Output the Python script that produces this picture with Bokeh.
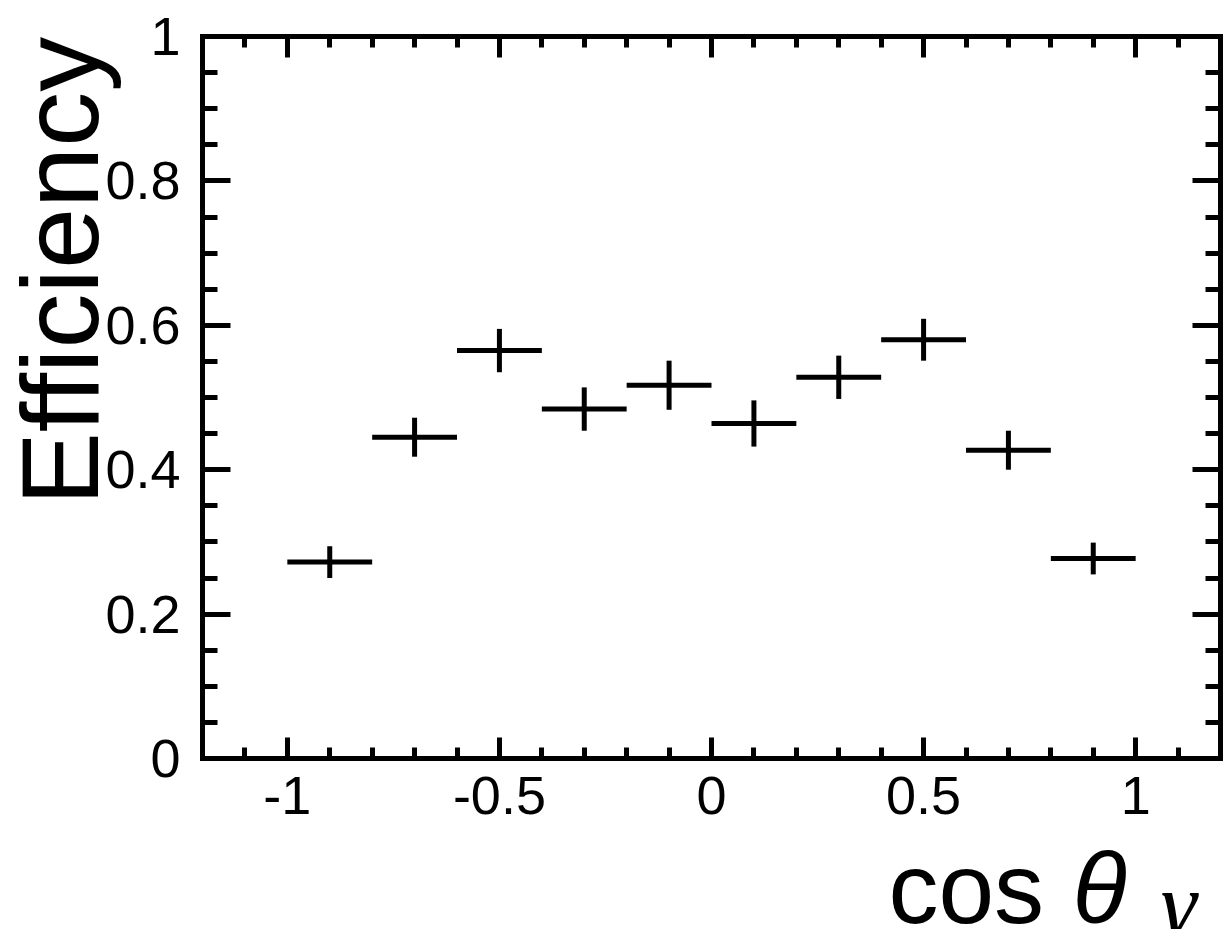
import math
from bokeh.plotting import figure
from bokeh.models import (Range1d, LinearAxis, SingleIntervalTicker,
                          CustomJSTickFormatter, Label, ColumnDataSource)
from bokeh.embed import file_html
from bokeh.resources import INLINE

# ---- data ----
bin_centers = [-0.9, -0.7, -0.5, -0.3, -0.1, 0.1, 0.3, 0.5, 0.7, 0.9]
bin_half_width = [0.1, 0.1, 0.1, 0.1, 0.1, 0.1, 0.1, 0.1, 0.1, 0.1]
efficiency = [0.272, 0.445, 0.565, 0.484, 0.517, 0.464, 0.528, 0.580, 0.427, 0.277]
efficiency_err = [0.022, 0.027, 0.030, 0.030, 0.034, 0.032, 0.030, 0.029, 0.027, 0.022]

x_axis_limits = [-1.2, 1.2]
y_axis_limits = [0.0, 1.0]

x_title = "cos"
x_title_theta = "\u03b8"
x_title_sub = "\u03b3"
y_title = "Efficiency"

FONT = "Liberation Sans"

# layout of the drawn box inside the canvas (pixels)
W, H = 1225, 929
BOX_L, BOX_R, BOX_T, BOX_B = 202, 1220, 36, 758
sx = (BOX_R - BOX_L) / (x_axis_limits[1] - x_axis_limits[0])
sy = (BOX_B - BOX_T) / (y_axis_limits[1] - y_axis_limits[0])
x_start = x_axis_limits[0] - BOX_L / sx
x_end = x_axis_limits[1] + (W - BOX_R) / sx
y_end = y_axis_limits[1] + BOX_T / sy
y_start = y_axis_limits[0] - (H - BOX_B) / sy


def dx(px):
    return x_start + px / sx


def dy(py):
    return y_end - py / sy


src = ColumnDataSource(dict(
    x=bin_centers,
    y=efficiency,
    xl=[c - h for c, h in zip(bin_centers, bin_half_width)],
    xr=[c + h for c, h in zip(bin_centers, bin_half_width)],
    yl=[v - e for v, e in zip(efficiency, efficiency_err)],
    yh=[v + e for v, e in zip(efficiency, efficiency_err)],
))

p = figure(width=W, height=H,
           x_range=Range1d(x_start, x_end), y_range=Range1d(y_start, y_end),
           output_backend="svg", toolbar_location=None,
           x_axis_type=None, y_axis_type=None, min_border=0)
p.background_fill_color = "white"
p.border_fill_color = "white"
p.outline_line_color = None

num_fmt = CustomJSTickFormatter(code="return Number(tick.toFixed(2)).toString();")
blank_fmt = CustomJSTickFormatter(code="return '';")


def make_axis(interval, minor, fmt, loc, bounds, major_in, minor_in, standoff):
    ax = LinearAxis(ticker=SingleIntervalTicker(interval=interval, num_minor_ticks=minor),
                    formatter=fmt, fixed_location=loc, bounds=tuple(bounds))
    ax.axis_line_color = "black"
    ax.axis_line_width = 5
    ax.axis_line_cap = "square"
    ax.major_tick_line_color = "black"
    ax.major_tick_line_width = 5
    ax.minor_tick_line_color = "black"
    ax.minor_tick_line_width = 5
    ax.major_tick_in = major_in
    ax.major_tick_out = 0
    ax.minor_tick_in = minor_in
    ax.minor_tick_out = 0
    ax.major_label_text_font = FONT
    ax.major_label_text_font_size = "54px"
    ax.major_label_text_color = "black"
    ax.major_label_standoff = standoff
    return ax


xb = make_axis(0.5, 5, num_fmt, y_axis_limits[0], x_axis_limits, 21, 11, 18)
xt = make_axis(0.5, 5, blank_fmt, y_axis_limits[1], x_axis_limits, 21, 11, 0)
yl = make_axis(0.2, 4, num_fmt, x_axis_limits[0], y_axis_limits, 28, 15, 22)
yr = make_axis(0.2, 4, blank_fmt, x_axis_limits[1], y_axis_limits, 28, 15, 0)

p.add_layout(xb, "below")
p.add_layout(xt, "above")
p.add_layout(yl, "left")
p.add_layout(yr, "right")

# error bars
p.segment(x0="xl", x1="xr", y0="y", y1="y", source=src,
          line_color="black", line_width=5, line_cap="butt")
p.segment(x0="x", x1="x", y0="yl", y1="yh", source=src,
          line_color="black", line_width=5, line_cap="butt")

# titles
p.add_layout(Label(x=dx(59), y=dy(505), text=y_title, angle=math.pi / 2,
                   text_font=FONT, text_font_size="110px", text_color="black",
                   text_align="left", text_baseline="alphabetic"))
p.add_layout(Label(x=dx(888), y=dy(887), text=x_title,
                   text_font=FONT, text_font_size="100px", text_color="black",
                   text_align="left", text_baseline="alphabetic"))
p.add_layout(Label(x=dx(1072), y=dy(887), text=x_title_theta,
                   text_font=FONT, text_font_style="italic", text_font_size="100px",
                   text_color="black", text_align="left", text_baseline="alphabetic"))
p.add_layout(Label(x=dx(1160), y=dy(903), text=x_title_sub,
                   text_font="Liberation Serif", text_font_style="italic", text_font_size="92px",
                   text_color="black", text_align="left", text_baseline="alphabetic"))

open("out.html", "w").write(file_html(p, INLINE))
